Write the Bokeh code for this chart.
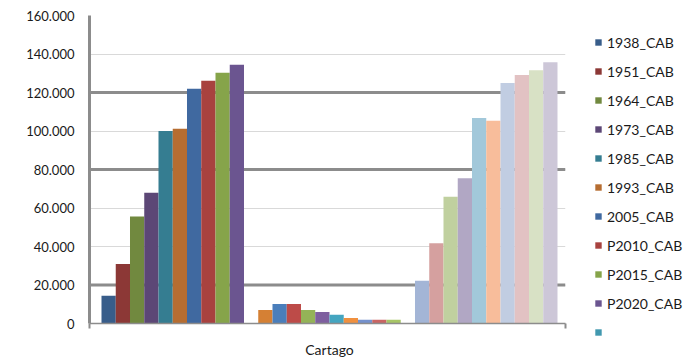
from bokeh.plotting import figure
from bokeh.models import ColumnDataSource, Range1d, FixedTicker, Span, Legend, LegendItem
from bokeh.layouts import row
from bokeh.embed import file_html
from bokeh.resources import INLINE

# ---- data ----
category = "Cartago"
series_names = ["1938_CAB", "1951_CAB", "1964_CAB", "1973_CAB", "1985_CAB",
                "1993_CAB", "2005_CAB", "P2010_CAB", "P2015_CAB", "P2020_CAB", ""]
group1 = [14400, 30900, 55600, 67900, 100000, 101200, 121900, 126100, 130300, 134400]
group2 = [7000, 10100, 10100, 7000, 6000, 4500, 2900, 1900, 1900, 1900]
group3 = [22200, 41700, 65800, 75500, 106800, 105300, 125000, 129100, 131600, 135700]
y_ticks = [0, 20000, 40000, 60000, 80000, 100000, 120000, 140000, 160000]
y_tick_labels = ["0", "20.000", "40.000", "60.000", "80.000", "100.000",
                 "120.000", "140.000", "160.000"]
emphasized_lines = [20000, 80000, 120000]

# ---- styles ----
colors1 = ["#385D8A", "#8C3836", "#71893F", "#5C4776", "#357D91",
           "#B66D31", "#4069A0", "#A8423F", "#86A44A", "#6B5590"]
gap_color1 = "#4198AF"
colors2 = ["#D58034", "#4A7EBB", "#BD4B48", "#94B357", "#7E5F9F",
           "#44A5C0", "#F0903F", "#7591CC", "#C96563", "#A7C566"]
gap_color2 = "#8064A2"
colors3 = ["#A3B5D6", "#D5A09F", "#C0D09F", "#B1A7C4", "#A2C8DA",
           "#F8BD9B", "#C1CDE2", "#E2C2C3", "#D8E1C5", "#CDC7D8"]

tops = group1 + [0] + group2 + [0] + group3
cols = colors1 + [gap_color1] + colors2 + [gap_color2] + colors3
xs = list(range(len(tops)))

src = ColumnDataSource(dict(x=xs, top=tops, color=cols))

x_start = -1.342
x_end = 32.062

p = figure(width=567, height=360, x_range=Range1d(x_start, x_end),
           y_range=Range1d(0, 160000), output_backend="svg",
           toolbar_location=None, min_border_left=89, min_border_right=2,
           min_border_top=15, min_border_bottom=34)
p.outline_line_color = None
p.background_fill_color = "white"
p.border_fill_color = "white"

p.xgrid.visible = False
p.ygrid.ticker = FixedTicker(ticks=y_ticks)
p.ygrid.grid_line_color = "#D9D9D9"
p.ygrid.grid_line_width = 1

for v in emphasized_lines:
    s = Span(location=v, dimension="width", line_color="#8C8C8C", line_width=3)
    s.level = "underlay"
    p.add_layout(s)

r = p.vbar(x="x", top="top", width=1, fill_color="color", line_color=None, source=src)

# y axis
ya = p.yaxis[0]
ya.ticker = FixedTicker(ticks=y_ticks)
ya.major_label_overrides = dict(zip(y_ticks, y_tick_labels))
ya.axis_line_color = "#8C8C8C"
ya.axis_line_width = 3
ya.major_tick_in = 0
ya.major_tick_out = 0
ya.minor_tick_line_color = None
ya.major_label_standoff = 15
ya.major_label_text_font = "Lato"
ya.major_label_text_font_size = "13px"
ya.major_label_text_color = "#1A1A1A"

# x axis
xa = p.xaxis[0]
xa.ticker = FixedTicker(ticks=[15.5], minor_ticks=[x_start, x_end])
xa.major_label_overrides = {15.5: category}
xa.axis_line_color = "#8C8C8C"
xa.axis_line_width = 1.5
xa.major_tick_in = 0
xa.major_tick_out = 0
xa.minor_tick_in = 0
xa.minor_tick_out = 5
xa.minor_tick_line_color = "#8C8C8C"
xa.minor_tick_line_width = 2
xa.major_label_standoff = 12
xa.major_label_text_font = "Lato"
xa.major_label_text_font_size = "14px"
xa.major_label_text_color = "#1A1A1A"

# ---- legend panel (separate figure so the legend is not clipped) ----
n_leg = len(series_names)
leg_src = ColumnDataSource(dict(x=list(range(n_leg)), top=[0] * n_leg,
                                color=cols[:n_leg]))
pl = figure(width=131, height=360, x_range=Range1d(-1000, -999), y_range=Range1d(0, 1),
            output_backend="svg", toolbar_location=None, x_axis_type=None,
            y_axis_type=None, min_border_left=0, min_border_right=0,
            min_border_top=0, min_border_bottom=0)
pl.outline_line_color = None
pl.background_fill_color = "white"
pl.border_fill_color = "white"
if hasattr(pl, "frame_align"):
    pl.frame_align = False
    p.frame_align = False
rl = pl.vbar(x="x", top="top", width=1, fill_color="color", line_color=None, source=leg_src)

items = [LegendItem(label=series_names[i], renderers=[rl], index=i) for i in range(n_leg)]
legend = Legend(items=items, location=(27, 18), border_line_color=None,
                background_fill_alpha=0, padding=0, margin=0, spacing=9,
                label_height=20, glyph_height=8, glyph_width=8, label_standoff=5,
                label_text_font="Lato", label_text_font_size="14px",
                label_text_color="#1A1A1A")
pl.add_layout(legend)

layout = row(p, pl)
open("out.html", "w").write(file_html(layout, INLINE))
